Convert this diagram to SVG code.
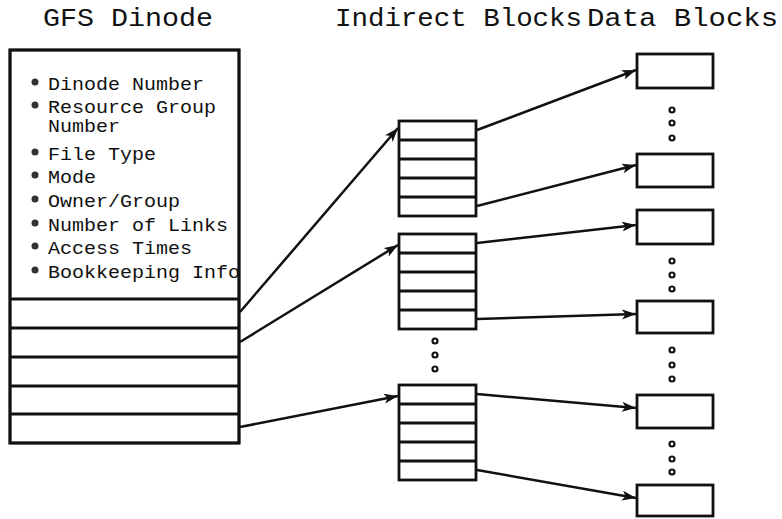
<svg xmlns="http://www.w3.org/2000/svg" width="782" height="519" viewBox="0 0 782 519">
<style>
.title{font-family:"Liberation Mono","Courier New",monospace;font-size:25px;fill:#111}
.item{font-family:"Liberation Mono","Courier New",monospace;font-size:18px;fill:#111}
.box{fill:#fff;stroke:#111;stroke-width:2.8}
.row{stroke:#111;stroke-width:2.8}
.bul{fill:#333}
.dot{fill:#fff;stroke:#111;stroke-width:2.2}
.conn{fill:none;stroke:#111;stroke-width:2.5;marker-end:url(#ah)}
</style>
<defs>
<marker id="ah" markerUnits="userSpaceOnUse" markerWidth="16" markerHeight="12" refX="14" refY="5" orient="auto">
<path d="M0,0 L14,5 L0,10 L3.5,5 z" fill="#111"/>
</marker>
<clipPath id="dclip"><rect x="10" y="50" width="229" height="250"/></clipPath>
</defs>
<rect width="782" height="519" fill="#fff"/>
<g id="titles">
<text class="title" x="43" y="26" textLength="170" lengthAdjust="spacingAndGlyphs">GFS Dinode</text>
<text class="title" x="335" y="26" textLength="247" lengthAdjust="spacingAndGlyphs">Indirect Blocks</text>
<text class="title" x="587" y="26" textLength="191" lengthAdjust="spacingAndGlyphs">Data Blocks</text>
</g>
<g id="dinode">
<rect class="box" x="10" y="50" width="229" height="393"/>
<g clip-path="url(#dclip)">
<circle class="bul" cx="35" cy="82" r="3.5"/><text class="item" x="48" y="90" textLength="156" lengthAdjust="spacingAndGlyphs">Dinode Number</text>
<circle class="bul" cx="35" cy="105" r="3.5"/><text class="item" x="48" y="113" textLength="168" lengthAdjust="spacingAndGlyphs">Resource Group</text>
<text class="item" x="48" y="132" textLength="72" lengthAdjust="spacingAndGlyphs">Number</text>
<circle class="bul" cx="35" cy="152" r="3.5"/><text class="item" x="48" y="160" textLength="108" lengthAdjust="spacingAndGlyphs">File Type</text>
<circle class="bul" cx="35" cy="175" r="3.5"/><text class="item" x="48" y="183" textLength="48" lengthAdjust="spacingAndGlyphs">Mode</text>
<circle class="bul" cx="35" cy="199" r="3.5"/><text class="item" x="48" y="207" textLength="132" lengthAdjust="spacingAndGlyphs">Owner/Group</text>
<circle class="bul" cx="35" cy="223" r="3.5"/><text class="item" x="48" y="231" textLength="180" lengthAdjust="spacingAndGlyphs">Number of Links</text>
<circle class="bul" cx="35" cy="246" r="3.5"/><text class="item" x="48" y="254" textLength="144" lengthAdjust="spacingAndGlyphs">Access Times</text>
<circle class="bul" cx="35" cy="270" r="3.5"/><text class="item" x="48" y="278" textLength="192" lengthAdjust="spacingAndGlyphs">Bookkeeping Info</text>
</g>
<rect x="10" y="50" width="229" height="393" fill="none" stroke="#111" stroke-width="2.8"/>
<line class="row" x1="10" y1="299" x2="239" y2="299"/>
<line class="row" x1="10" y1="328" x2="239" y2="328"/>
<line class="row" x1="10" y1="357" x2="239" y2="357"/>
<line class="row" x1="10" y1="386" x2="239" y2="386"/>
<line class="row" x1="10" y1="414" x2="239" y2="414"/>
</g>
<g id="indirect1">
<rect class="box" x="399" y="121" width="77" height="95"/>
<line class="row" x1="399" y1="140" x2="476" y2="140"/>
<line class="row" x1="399" y1="159" x2="476" y2="159"/>
<line class="row" x1="399" y1="178" x2="476" y2="178"/>
<line class="row" x1="399" y1="197" x2="476" y2="197"/>
</g>
<g id="indirect2">
<rect class="box" x="399" y="234" width="77" height="95"/>
<line class="row" x1="399" y1="253" x2="476" y2="253"/>
<line class="row" x1="399" y1="272" x2="476" y2="272"/>
<line class="row" x1="399" y1="291" x2="476" y2="291"/>
<line class="row" x1="399" y1="310" x2="476" y2="310"/>
</g>
<g id="indirect-dots">
<circle class="dot" cx="435" cy="341" r="2.5"/>
<circle class="dot" cx="435" cy="355" r="2.5"/>
<circle class="dot" cx="435" cy="369" r="2.5"/>
</g>
<g id="indirect3">
<rect class="box" x="399" y="385" width="77" height="95"/>
<line class="row" x1="399" y1="404" x2="476" y2="404"/>
<line class="row" x1="399" y1="423" x2="476" y2="423"/>
<line class="row" x1="399" y1="442" x2="476" y2="442"/>
<line class="row" x1="399" y1="461" x2="476" y2="461"/>
</g>
<g id="data1"><rect class="box" x="637" y="54" width="76" height="34"/></g>
<g id="data2"><rect class="box" x="637" y="154" width="76" height="33"/></g>
<g id="data3"><rect class="box" x="637" y="210" width="76" height="34"/></g>
<g id="data4"><rect class="box" x="637" y="301" width="76" height="32"/></g>
<g id="data5"><rect class="box" x="637" y="395" width="76" height="33"/></g>
<g id="data6"><rect class="box" x="637" y="485" width="76" height="31"/></g>
<g id="data-dots">
<circle class="dot" cx="672" cy="110" r="2.5"/><circle class="dot" cx="672" cy="123" r="2.5"/><circle class="dot" cx="672" cy="138" r="2.5"/>
<circle class="dot" cx="672" cy="261" r="2.5"/><circle class="dot" cx="672" cy="275" r="2.5"/><circle class="dot" cx="672" cy="289" r="2.5"/>
<circle class="dot" cx="672" cy="350" r="2.5"/><circle class="dot" cx="672" cy="365" r="2.5"/><circle class="dot" cx="672" cy="379" r="2.5"/>
<circle class="dot" cx="672" cy="444" r="2.5"/><circle class="dot" cx="672" cy="459" r="2.5"/><circle class="dot" cx="672" cy="472" r="2.5"/>
</g>
<g id="connectors">
<line class="conn" x1="240" y1="312" x2="398" y2="128"/>
<line class="conn" x1="240" y1="342" x2="398" y2="245"/>
<line class="conn" x1="240" y1="427" x2="398" y2="396"/>
<line class="conn" x1="477" y1="130" x2="636" y2="70"/>
<line class="conn" x1="477" y1="206" x2="636" y2="165"/>
<line class="conn" x1="477" y1="243" x2="636" y2="225"/>
<line class="conn" x1="477" y1="319" x2="636" y2="314"/>
<line class="conn" x1="477" y1="394" x2="636" y2="408"/>
<line class="conn" x1="477" y1="470" x2="636" y2="498"/>
</g>
</svg>
